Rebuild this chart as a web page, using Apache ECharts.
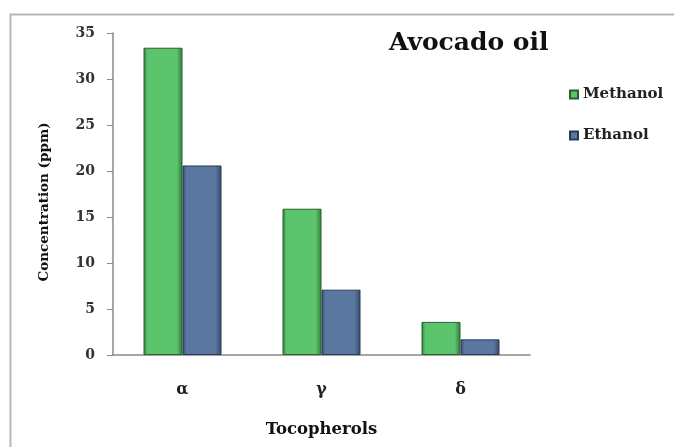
<!DOCTYPE html>
<html>
<head>
<meta charset="utf-8">
<script src="https://cdn.jsdelivr.net/npm/echarts@6/dist/echarts.min.js"></script>
<style>
  html, body { margin: 0; padding: 0; background: #fff; }
  #chart { width: 674px; height: 447px; }
</style>
</head>
<body>
<div id="chart"></div>
<script>
// Tocopherol concentrations (ppm) in avocado oil by extraction solvent
const categories = ['α', 'γ', 'δ'];
const methanol = [33.4, 15.9, 3.6];
const ethanol = [20.6, 7.1, 1.7];
const seriesNames = ['Methanol', 'Ethanol'];

const serif = '"DejaVu Serif", "Liberation Serif", serif';

// Horizontal gradient gives the bars a bevelled look
function bevel(edge, mid) {
  return {
    type: 'linear', x: 0, y: 0, x2: 1, y2: 0,
    colorStops: [
      { offset: 0, color: edge },
      { offset: 0.1, color: mid },
      { offset: 0.85, color: mid },
      { offset: 1, color: edge }
    ]
  };
}

const chart = echarts.init(document.getElementById('chart'));
chart.setOption({
  animation: false,
  backgroundColor: '#fff',
  title: {
    text: 'Avocado oil',
    left: 384, top: 26,
    textStyle: { fontFamily: serif, fontWeight: 'bold', fontSize: 25, color: '#111' }
  },
  legend: {
    orient: 'vertical',
    left: 564, top: 82,
    itemGap: 26,
    itemWidth: 8, itemHeight: 8,
    icon: 'rect',
    textStyle: { fontFamily: serif, fontWeight: 'bold', fontSize: 15, lineHeight: 15, color: '#222' },
    data: seriesNames
  },
  grid: { left: 113, right: 144, top: 33, bottom: 92 },
  xAxis: {
    type: 'category',
    data: categories,
    name: 'Tocopherols',
    nameLocation: 'middle',
    nameGap: 66,
    nameTextStyle: { fontFamily: serif, fontWeight: 'bold', fontSize: 16.5, color: '#111' },
    axisLine: { lineStyle: { color: '#888', width: 1.5 } },
    axisTick: { show: false },
    axisLabel: { fontFamily: serif, fontWeight: 'bold', fontSize: 16, color: '#222', margin: 27 }
  },
  yAxis: {
    type: 'value',
    min: 0, max: 35, interval: 5,
    name: 'Concentration (ppm)',
    nameLocation: 'middle',
    nameGap: 62,
    nameTextStyle: { fontFamily: serif, fontWeight: 'bold', fontSize: 13.5, color: '#111', padding: [0, 16, 0, 0] },
    axisLine: { show: true, lineStyle: { color: '#888', width: 1.5 } },
    axisTick: { show: true, length: 6, lineStyle: { color: '#888' } },
    axisLabel: { fontFamily: serif, fontWeight: 'bold', fontSize: 14, color: '#333', margin: 18 },
    splitLine: { show: false }
  },
  series: [
    {
      name: seriesNames[0],
      type: 'bar',
      data: methanol,
      barWidth: 39,
      barGap: '0%',
      itemStyle: {
        color: bevel('#2f7a3c', '#5cc46c'),
        borderColor: '#2c5e33', borderWidth: 1
      }
    },
    {
      name: seriesNames[1],
      type: 'bar',
      data: ethanol,
      barWidth: 39,
      barGap: '0%',
      itemStyle: {
        color: bevel('#34496a', '#5a77a0'),
        borderColor: '#2a3a55', borderWidth: 1
      }
    }
  ],
  graphic: [
    {
      type: 'rect',
      silent: true,
      shape: { x: 10.5, y: 14.5, width: 700, height: 500 },
      style: { fill: 'none', stroke: '#b8b8b8', lineWidth: 2 }
    }
  ]
});
</script>
</body>
</html>
